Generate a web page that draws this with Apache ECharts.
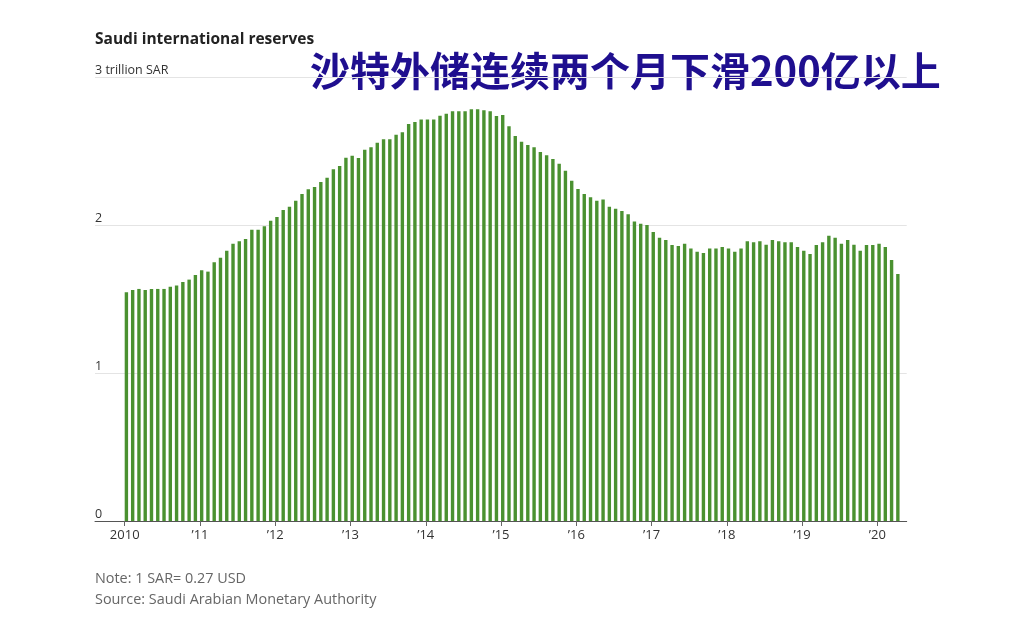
<!DOCTYPE html>
<html>
<head>
<meta charset="utf-8">
<script src="https://cdn.jsdelivr.net/npm/echarts@6/dist/echarts.min.js"></script>
<style>
html,body{margin:0;padding:0;background:#fff;}
#chart{width:1014px;height:635px;}
</style>
</head>
<body>
<div id="chart"></div>
<script>
// ---- data ----
var years = [2010, 2011, 2012, 2013, 2014, 2015, 2016, 2017, 2018, 2019, 2020];
var yearLabels = ['2010', '\u201911', '\u201912', '\u201913', '\u201914', '\u201915', '\u201916', '\u201917', '\u201918', '\u201919', '\u201920'];
var monthsIn2020 = 4;
var reserves = [
  1.545, 1.561, 1.568, 1.561, 1.568, 1.568, 1.568, 1.583, 1.592, 1.615, 1.631, 1.662,
  1.694, 1.685, 1.748, 1.779, 1.826, 1.874, 1.890, 1.905, 1.968, 1.968, 1.991, 2.029,
  2.054, 2.101, 2.124, 2.164, 2.209, 2.241, 2.257, 2.291, 2.320, 2.376, 2.399, 2.455,
  2.468, 2.453, 2.509, 2.525, 2.556, 2.579, 2.579, 2.610, 2.626, 2.682, 2.696, 2.712,
  2.712, 2.712, 2.739, 2.752, 2.768, 2.768, 2.768, 2.782, 2.782, 2.775, 2.768, 2.736,
  2.743, 2.667, 2.601, 2.563, 2.541, 2.525, 2.493, 2.471, 2.446, 2.414, 2.367, 2.299,
  2.243, 2.209, 2.187, 2.164, 2.173, 2.124, 2.110, 2.095, 2.072, 2.023, 2.008, 2.000,
  1.953, 1.914, 1.899, 1.865, 1.858, 1.874, 1.842, 1.820, 1.811, 1.842, 1.842, 1.851,
  1.842, 1.820, 1.842, 1.890, 1.883, 1.890, 1.867, 1.899, 1.890, 1.883, 1.883, 1.851,
  1.826, 1.804, 1.865, 1.883, 1.928, 1.914, 1.874, 1.899, 1.867, 1.826, 1.865, 1.865,
  1.874, 1.851, 1.764, 1.669
];
var yTickLabels = ['0', '1', '2', '3 trillion SAR'];
var titleText = 'Saudi international reserves';
var headlineText = '\u6c99\u7279\u5916\u50a8\u8fde\u7eed\u4e24\u4e2a\u6708\u4e0b\u6ed1200\u4ebf\u4ee5\u4e0a';
var noteText = 'Note: 1 SAR= 0.27 USD';
var sourceText = 'Source: Saudi Arabian Monetary Authority';

// ---- categories (months) ----
var months = [];
years.forEach(function (y) {
  var n = (y === 2020) ? monthsIn2020 : 12;
  for (var m = 1; m <= n; m++) months.push(y + '-' + (m < 10 ? '0' + m : m));
});

var FF = '"Open Sans", Lato, sans-serif';
var TOP = 77, BOTTOM = 635 - 521;
var bandW = 6.272;
var X0 = 124.7;

var chart = echarts.init(document.getElementById('chart'), null, {renderer: 'canvas'});
chart.setOption({
  animation: false,
  backgroundColor: '#ffffff',
  textStyle: {fontFamily: FF},
  grid: [
    {left: 95, right: 1014 - 906.7, top: TOP, bottom: BOTTOM},
    {left: X0, width: bandW * months.length, top: TOP, bottom: BOTTOM},
    {left: X0, width: bandW * 120, top: TOP, bottom: BOTTOM}
  ],
  xAxis: [
    {
      type: 'value', gridIndex: 0, min: 0, max: 1,
      axisLine: {show: true, lineStyle: {color: '#555555', width: 1}},
      axisTick: {show: false}, axisLabel: {show: false}, splitLine: {show: false}
    },
    {
      type: 'category', gridIndex: 1, data: months, boundaryGap: true,
      axisLine: {show: false}, axisTick: {show: false}, axisLabel: {show: false},
      splitLine: {show: false}
    },
    {
      type: 'value', gridIndex: 2, min: 0, max: 120, interval: 12,
      axisLine: {show: false},
      axisTick: {show: true, length: 5, lineStyle: {color: '#666666', width: 1}},
      axisLabel: {
        show: true, margin: 8, fontSize: 13, color: '#333333', fontFamily: FF,
        formatter: function (v) { return yearLabels[Math.round(v / 12)]; }
      },
      splitLine: {show: false}
    }
  ],
  yAxis: [
    {
      type: 'value', gridIndex: 0, min: 0, max: 3, interval: 1,
      axisLine: {show: false}, axisTick: {show: false},
      splitLine: {show: true, lineStyle: {color: '#e4e4e4', width: 1}},
      axisLabel: {
        inside: true, margin: 0, fontSize: 12.5, color: '#333333', fontFamily: FF,
        verticalAlign: 'bottom',
        formatter: function (v) { return yTickLabels[Math.round(v)]; }
      }
    },
    {type: 'value', gridIndex: 1, min: 0, max: 3, interval: 1, show: false, splitLine: {show: false}},
    {type: 'value', gridIndex: 2, min: 0, max: 3, interval: 1, show: false, splitLine: {show: false}}
  ],
  series: [
    {
      name: 'reserves', type: 'bar', xAxisIndex: 1, yAxisIndex: 1,
      data: reserves, barWidth: 3.4, barGap: '0%',
      itemStyle: {color: '#4a9130'}
    },
    {
      name: 'pad', type: 'bar', xAxisIndex: 1, yAxisIndex: 1,
      data: [], barWidth: bandW - 3.4, barGap: '0%'
    }
  ],
  graphic: [
    {type: 'text', left: 95, top: 32, style: {text: titleText, font: 'bold 15.5px ' + FF, fill: '#222222'}},
    {type: 'text', left: 310, top: 51, style: {text: headlineText, font: 'bold 40px "Noto Sans CJK SC", sans-serif', fill: '#1f0f8f'}},
    {type: 'text', left: 95, top: 572, style: {text: noteText, font: '14.4px ' + FF, fill: '#666666'}},
    {type: 'text', left: 95, top: 593, style: {text: sourceText, font: '14.4px ' + FF, fill: '#666666'}}
  ]
});
</script>
</body>
</html>
